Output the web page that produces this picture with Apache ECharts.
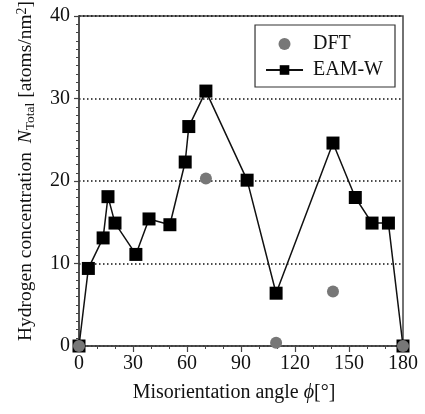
<!DOCTYPE html>
<html><head><meta charset="utf-8">
<script src="https://cdn.jsdelivr.net/npm/echarts@6/dist/echarts.min.js"></script>
<style>html,body{margin:0;padding:0;background:#fff}#c{width:425px;height:414px}</style>
</head><body><div id="c"></div>
<script>
const eamAngles = [0, 5.2, 13.4, 16.1, 20.0, 31.6, 38.9, 50.5, 59.0, 61.0, 70.5, 93.4, 109.5, 141.1, 153.5, 162.8, 171.9, 180];
const eamValues = [0, 9.4, 13.1, 18.1, 14.9, 11.1, 15.4, 14.7, 22.3, 26.6, 30.9, 20.1, 6.4, 24.6, 18.0, 14.9, 14.9, 0];
const dftAngles = [0, 70.5, 109.5, 141.1, 180];
const dftValues = [0, 20.3, 0.4, 6.6, 0];
const xTicks = [0, 30, 60, 90, 120, 150, 180];
const yTicks = [0, 10, 20, 30, 40];

const FONT = 'Liberation Serif';
const chart = echarts.init(document.getElementById('c'));
chart.setOption({
  animation: false,
  backgroundColor: '#fff',
  textStyle: {fontFamily: FONT, color: '#111'},
  grid: {left: 79, right: 22, top: 16, bottom: 68, show: true, borderColor: '#444', borderWidth: 1.5, backgroundColor: 'transparent', containLabel: false, outerBoundsMode: 'none'},
  legend: {
    orient: 'vertical', right: 30, top: 25,
    data: [{name: 'DFT', icon: 'circle'}, 'EAM-W'],
    borderColor: '#333', borderWidth: 1.2, padding: [9, 12, 7, 10],
    itemWidth: 37, itemHeight: 12, itemGap: 6,
    textStyle: {fontFamily: FONT, fontSize: 20, color: '#111', padding: [0, 0, 0, 5]}
  },
  xAxis: {
    type: 'value', min: xTicks[0], max: xTicks[xTicks.length - 1], interval: 30,
    axisLine: {lineStyle: {color: '#444', width: 1.5}},
    axisTick: {length: 6, lineStyle: {color: '#444', width: 1.2}},
    minorTick: {show: true, splitNumber: 3, length: 3, lineStyle: {color: '#444', width: 1}},
    splitLine: {show: false},
    axisLabel: {fontFamily: FONT, fontSize: 20, color: '#111', margin: 8},
    name: '{t|Misorientation angle }{i|ϕ}{t|[°]}',
    nameLocation: 'middle', nameGap: 37,
    nameTextStyle: {rich: {
      t: {fontFamily: FONT, fontSize: 20, color: '#111'},
      i: {fontFamily: FONT, fontSize: 20, fontStyle: 'italic', color: '#111'}
    }, padding: [0, 14, 0, 0]}
  },
  yAxis: {
    type: 'value', min: yTicks[0], max: yTicks[yTicks.length - 1], interval: 10,
    axisLine: {lineStyle: {color: '#444', width: 1.5}},
    axisTick: {length: 5, lineStyle: {color: '#444', width: 1.2}},
    minorTick: {show: true, splitNumber: 10, length: 3, lineStyle: {color: '#444', width: 1}},
    splitLine: {show: true, lineStyle: {color: '#111', width: 1.5, type: [1.5, 2.5]}},
    axisLabel: {fontFamily: FONT, fontSize: 20, color: '#111', margin: 9},
    name: '{t|Hydrogen concentration }{i|N}{s|Total}{t| [atoms/nm}{p|2}{t|]}',
    nameLocation: 'middle', nameGap: 42, nameRotate: 90,
    nameTextStyle: {rich: {
      t: {fontFamily: FONT, fontSize: 19.5, color: '#111', lineHeight: 22},
      i: {fontFamily: FONT, fontSize: 19.5, fontStyle: 'italic', color: '#111', lineHeight: 22, padding: [0, 0, 0, 4]},
      s: {fontFamily: FONT, fontSize: 13.5, color: '#111', verticalAlign: 'bottom', lineHeight: 13},
      p: {fontFamily: FONT, fontSize: 14, color: '#111', verticalAlign: 'top', lineHeight: 13}
    }, padding: [0, 0, 0, 20]}
  },
  series: [
    {
      name: 'EAM-W', type: 'line',
      data: eamAngles.map((a, i) => [a, eamValues[i]]),
      symbol: 'rect', symbolSize: 13,
      lineStyle: {color: '#111', width: 1.5},
      itemStyle: {color: '#000'},
      z: 2
    },
    {
      name: 'DFT', type: 'scatter',
      data: dftAngles.map((a, i) => [a, dftValues[i]]),
      symbol: 'circle', symbolSize: 12,
      itemStyle: {color: '#777', opacity: 1},
      z: 3
    }
  ]
});
</script></body></html>
